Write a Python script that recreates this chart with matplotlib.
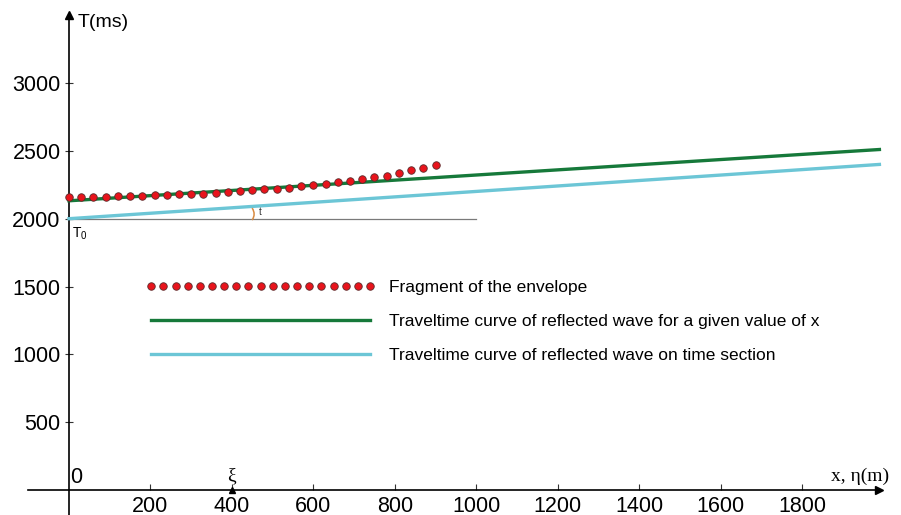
"""
Envelope of reflected-wave traveltime curves vs. offset
"""
import matplotlib.pyplot as plt
from matplotlib.patches import Arc

plt.rcParams['font.family'] = ['Liberation Sans', 'DejaVu Sans']
plt.rcParams['mathtext.fontset'] = 'custom'
plt.rcParams['mathtext.rm'] = 'Liberation Sans'

# ── Data ──────────────────────────────────────────────────────────
env_x = [0, 30, 60, 90, 120, 150, 180, 210, 240, 270, 300, 330, 360, 390, 420,
         450, 480, 510, 540, 570, 600, 630, 660, 690, 720, 750, 780, 810, 840,
         870, 900]
env_t = [2160, 2157, 2157, 2157, 2167, 2167, 2167, 2174, 2174, 2179, 2179, 2184,
         2189, 2196, 2201, 2209, 2216, 2221, 2228, 2240, 2245, 2255, 2270, 2277,
         2292, 2307, 2316, 2336, 2360, 2377, 2395]

green_x = [0, 1000, 1990]
green_t = [2132, 2322, 2510]

cyan_x = [0, 1000, 1990]
cyan_t = [2000, 2201, 2400]

ref_x = [0, 1000]          # horizontal reference at T0
ref_t = [2000, 2000]

xticks = [200, 400, 600, 800, 1000, 1200, 1400, 1600, 1800]
yticks = [500, 1000, 1500, 2000, 2500, 3000]

# ── Layout ────────────────────────────────────────────────────────
fig = plt.figure(figsize=(9.01, 5.15), dpi=100, facecolor="white")
ax = fig.add_axes([0, 0, 1, 1])
ax.set_xlim(-169.4, 2043)
ax.set_ylim(-184, 3612)

for s in ["top", "right"]:
    ax.spines[s].set_visible(False)
ax.spines["left"].set_position(("data", 0))
ax.spines["bottom"].set_position(("data", 0))
ax.spines["left"].set_bounds(-184, 3500)
ax.spines["bottom"].set_bounds(-100, 1988)
ax.spines[["left", "bottom"]].set_linewidth(1.2)

ax.set_xticks(xticks)
ax.set_yticks(yticks)
ax.tick_params(axis="x", direction="in", length=4, width=0.8, pad=4,
               labelsize=15.5, colors="#333333", labelcolor="black")
ax.tick_params(axis="y", direction="inout", length=6, width=0.8, pad=3,
               labelsize=15.5, colors="#333333", labelcolor="black")

# arrow heads
ax.plot(1988, 0, marker=">", color="black", ms=6, clip_on=False)
ax.plot(0, 3500, marker="^", color="black", ms=6, clip_on=False)

# ── Curves ────────────────────────────────────────────────────────
ax.plot(ref_x, ref_t, color="#7a7a7a", lw=0.9, zorder=2)
l_cyan, = ax.plot(cyan_x, cyan_t, color="#6cc6d6", lw=2.4, zorder=3,
                  label="Traveltime curve of reflected wave on time section")
l_green, = ax.plot(green_x, green_t, color="#16793a", lw=2.4, zorder=3,
                   label="Traveltime curve of reflected wave for a given value of x")
l_env, = ax.plot(env_x, env_t, ls="none", marker="o", ms=5.4,
                 mfc="#e8141c", mec="#5a2a2a", mew=0.6, zorder=4,
                 label="Fragment of the envelope")

# small angle mark ")" between T0 line and time-section curve
ax.add_patch(Arc((430, 2034), 49, 147, theta1=-66, theta2=66,
                 color="#d88a40", lw=1.1, zorder=3))
ax.text(465, 2015, "t", fontsize=7, color="#333333", va="bottom")

# ── Annotations ───────────────────────────────────────────────────
ax.text(8, 1950, r"T$_\mathrm{0}$", fontsize=10, va="top", ha="left")
ax.text(2, 15, "0", fontsize=15.5, va="bottom", ha="left")
ax.text(400, 40, "ξ", fontsize=14, family="Liberation Serif",
        ha="center", va="bottom")
ax.plot(400, 0, marker="^", color="black", ms=5, clip_on=False, zorder=5)
ax.text(1942, 35, "x, η(m)", fontsize=14, family="Liberation Serif",
        ha="center", va="bottom")
ax.text(22, 3449, "T(ms)", fontsize=14, ha="left", va="center")

ax.legend(handles=[l_env, l_green, l_cyan], loc="upper left",
          bbox_to_anchor=(146 / 901, 1 - 280 / 515), bbox_transform=fig.transFigure,
          frameon=False, fontsize=12.5, numpoints=19, handlelength=13.2,
          handletextpad=0.8, labelspacing=1.07, borderpad=0, borderaxespad=0)

fig.savefig("out.png", dpi=100, facecolor="white")
